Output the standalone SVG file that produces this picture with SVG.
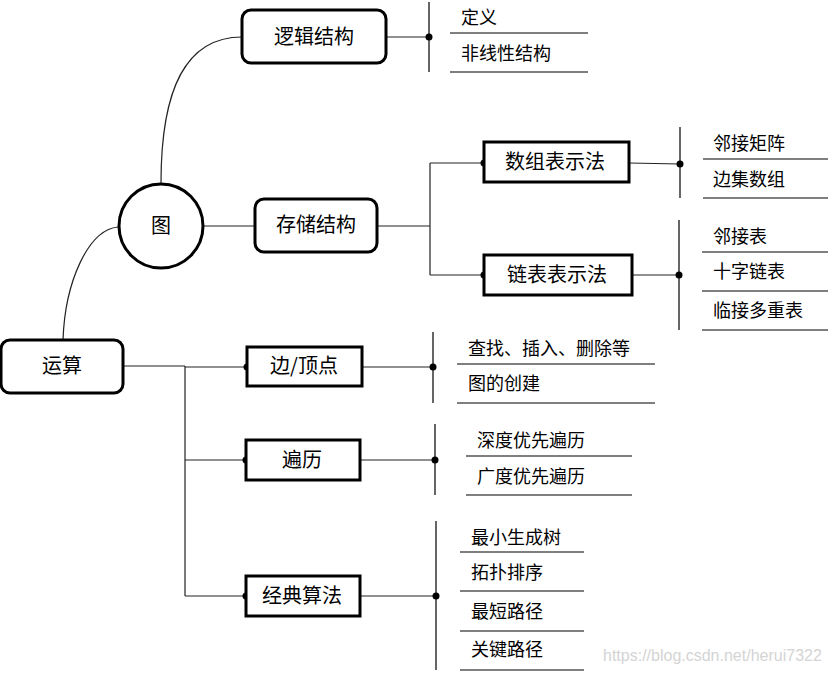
<svg xmlns="http://www.w3.org/2000/svg" width="828" height="673" viewBox="0 0 828 673">
<style>
.node{fill:#fff;stroke:#000;stroke-width:3}
.nt{font-family:"Noto Sans CJK SC","Microsoft YaHei",sans-serif;font-size:20px;fill:#000;text-anchor:middle;dominant-baseline:central}
.it{font-family:"Noto Sans CJK SC","Microsoft YaHei",sans-serif;font-size:18px;fill:#000;dominant-baseline:central}
.ln{fill:none;stroke:#222;stroke-width:1.2}
.ul{stroke:#555;stroke-width:1.6}
.bar{stroke:#333;stroke-width:1.5}
.dot{fill:#000}
.wm{font-family:"Liberation Sans",Arial,sans-serif;font-size:16px;fill:#d4d4d4}
</style>
<rect width="828" height="673" fill="#fff"/>
<g id="connectors">
<path class="ln" d="M161,183 C161,90 185,37 242,37"/>
<path class="ln" d="M118,227 C88,230 65,282 63,340"/>
<path class="ln" d="M204,226 H255"/>
<path class="ln" d="M386,37 H429"/>
<path class="ln" d="M377,226 H430 M430,163 V275 M430,163 H484 M430,275 H484"/>
<path class="ln" d="M629,163 L680,164"/>
<path class="ln" d="M632,275 H679"/>
<path class="ln" d="M123,366 H185 M185,366 V596 M185,367 H247 M185,460 H246 M185,596 H246"/>
<path class="ln" d="M362,367 H433"/>
<path class="ln" d="M360,460 H435"/>
<path class="ln" d="M360,596 H436"/>
<line class="bar" x1="429" y1="2" x2="429" y2="72"/>
<line class="bar" x1="680" y1="127" x2="680" y2="198"/>
<line class="bar" x1="679" y1="220" x2="679" y2="330"/>
<line class="bar" x1="433" y1="332" x2="433" y2="403"/>
<line class="bar" x1="435" y1="424" x2="435" y2="495"/>
<line class="bar" x1="436" y1="521" x2="436" y2="670"/>
<circle class="dot" cx="429" cy="37" r="3.5"/>
<circle class="dot" cx="680" cy="164" r="3.5"/>
<circle class="dot" cx="679" cy="275" r="3.5"/>
<circle class="dot" cx="433" cy="367" r="3.5"/>
<circle class="dot" cx="435" cy="460" r="3.5"/>
<circle class="dot" cx="436" cy="596" r="3.5"/>
<circle class="dot" cx="484" cy="163" r="3.5"/>
<circle class="dot" cx="484" cy="275" r="3.5"/>
<circle class="dot" cx="247" cy="367" r="3.5"/>
<circle class="dot" cx="246" cy="460" r="3.5"/>
<circle class="dot" cx="246" cy="596" r="3.5"/>
</g>
<g id="n-tu"><circle class="node" cx="161" cy="226" r="42"/><text class="nt" x="161" y="224">图</text></g>
<g id="n-luoji"><rect class="node" x="242" y="10" width="144" height="53" rx="9"/><text class="nt" x="314" y="35">逻辑结构</text></g>
<g id="n-cunchu"><rect class="node" x="255" y="199" width="122" height="53" rx="9"/><text class="nt" x="316" y="223">存储结构</text></g>
<g id="n-yunsuan"><rect class="node" x="1" y="340" width="122" height="53" rx="9"/><text class="nt" x="62" y="364">运算</text></g>
<g id="n-shuzu"><rect class="node" x="484" y="142" width="145" height="40"/><text class="nt" x="555" y="160">数组表示法</text></g>
<g id="n-lianbiao"><rect class="node" x="484" y="255" width="148" height="40"/><text class="nt" x="557" y="273">链表表示法</text></g>
<g id="n-bian"><rect class="node" x="247" y="347" width="115" height="39"/><text class="nt" x="304" y="364">边/顶点</text></g>
<g id="n-bianli"><rect class="node" x="246" y="440" width="114" height="40"/><text class="nt" x="302" y="458">遍历</text></g>
<g id="n-jingdian"><rect class="node" x="246" y="576" width="114" height="40"/><text class="nt" x="302" y="594">经典算法</text></g>
<g id="items-luoji">
<text class="it" x="461" y="16">定义</text><line class="ul" x1="450" y1="33" x2="588" y2="33"/>
<text class="it" x="461" y="52">非线性结构</text><line class="ul" x1="450" y1="72" x2="588" y2="72"/>
</g>
<g id="items-shuzu">
<text class="it" x="713" y="142">邻接矩阵</text><line class="ul" x1="703" y1="159" x2="828" y2="159"/>
<text class="it" x="713" y="178">边集数组</text><line class="ul" x1="703" y1="198" x2="828" y2="198"/>
</g>
<g id="items-lianbiao">
<text class="it" x="713" y="235">邻接表</text><line class="ul" x1="702" y1="252" x2="828" y2="252"/>
<text class="it" x="713" y="270">十字链表</text><line class="ul" x1="702" y1="291" x2="828" y2="291"/>
<text class="it" x="713" y="309">临接多重表</text><line class="ul" x1="702" y1="330" x2="828" y2="330"/>
</g>
<g id="items-bian">
<text class="it" x="468" y="347">查找、插入、删除等</text><line class="ul" x1="457" y1="364" x2="655" y2="364"/>
<text class="it" x="468" y="382">图的创建</text><line class="ul" x1="457" y1="403" x2="655" y2="403"/>
</g>
<g id="items-bianli">
<text class="it" x="477" y="439">深度优先遍历</text><line class="ul" x1="466" y1="456" x2="632" y2="456"/>
<text class="it" x="477" y="475">广度优先遍历</text><line class="ul" x1="466" y1="495" x2="632" y2="495"/>
</g>
<g id="items-jingdian">
<text class="it" x="471" y="536">最小生成树</text><line class="ul" x1="460" y1="552" x2="584" y2="552"/>
<text class="it" x="471" y="571">拓扑排序</text><line class="ul" x1="460" y1="591" x2="584" y2="591"/>
<text class="it" x="471" y="610">最短路径</text><line class="ul" x1="460" y1="631" x2="584" y2="631"/>
<text class="it" x="471" y="648">关键路径</text><line class="ul" x1="460" y1="670" x2="584" y2="670"/>
</g>
<text class="wm" x="603" y="661">https://blog.csdn.net/herui7322</text>
</svg>
